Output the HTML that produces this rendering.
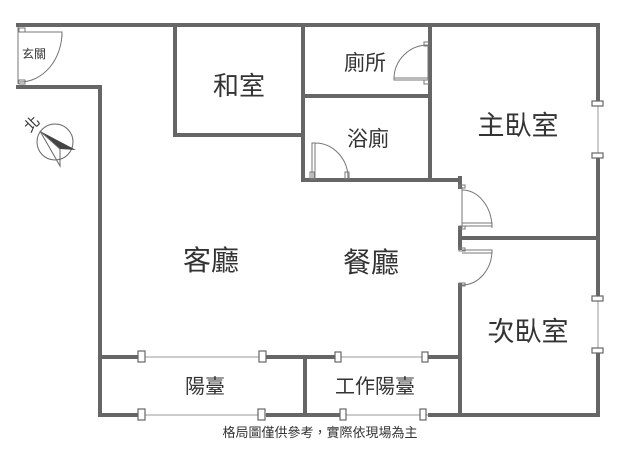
<!DOCTYPE html>
<html><head><meta charset="utf-8"><style>
body{margin:0;background:#fff}
svg{display:block}
text{font-family:"Liberation Sans","Noto Sans CJK TC",sans-serif;fill:#333;text-anchor:middle}
</style></head><body>
<svg width="640" height="461" viewBox="0 0 640 461">
<g stroke="#666" stroke-width="4" fill="none" stroke-linecap="square">
<path d="M18 25H598V415H100V87H18"/>
<path d="M175 25V135H303"/>
<path d="M303 25V180H460"/>
<path d="M303 96H430"/>
<path d="M430 25V178"/>
<path d="M460 178V187M460 228V248M460 285V415"/>
<path d="M460 238H598"/>
<path d="M100 357H460"/>
<path d="M305 357V415"/>
</g>
<!-- windows -->
<g fill="#fff" stroke="none">
<rect x="140" y="354" width="126" height="6"/><rect x="338" y="354" width="90" height="6"/>
<rect x="140" y="412" width="126" height="6"/><rect x="340" y="412" width="88" height="6"/>
<rect x="595" y="102" width="6" height="54"/><rect x="595" y="298" width="6" height="54"/>
</g>
<g stroke="#999" stroke-width="1">
<path d="M140 357H266M338 357H428M140 415H266M340 415H428M598 102V156M598 298V352"/>
</g>
<g fill="#fff" stroke="#666" stroke-width="1.2">
<rect x="138" y="351" width="7" height="11"/><rect x="259" y="351" width="7" height="11"/>
<rect x="335" y="352" width="6" height="10"/><rect x="422" y="352" width="6" height="10"/>
<rect x="138" y="409" width="7" height="11"/><rect x="258" y="409" width="7" height="11"/>
<rect x="340" y="409" width="6" height="11"/><rect x="420" y="409" width="6" height="11"/>
<rect x="592" y="101" width="11" height="5"/><rect x="592" y="153" width="11" height="5"/>
<rect x="592" y="296" width="11" height="5"/><rect x="592" y="348" width="11" height="5"/>
</g>
<!-- doors -->
<g fill="none" stroke="#777" stroke-width="1">
<path d="M18 27V84"/>
<path d="M20 32H62V37M62 32A42 50 0 0 1 20 82"/>
<rect x="19" y="28" width="6" height="4"/><rect x="19" y="80" width="6" height="4"/>
<path d="M428 45V80H394V78H428M394 78A34 34 0 0 1 428 45"/>
<rect x="424" y="42" width="5" height="4"/><rect x="424" y="80" width="5" height="4"/>
<path d="M312 180V143H315V180M315 143A33 35 0 0 1 348 178"/>
<rect x="345" y="172" width="4" height="7"/><rect x="310" y="172" width="4" height="7"/>
<path d="M462 187V228M462 190A30 38 0 0 1 492 226H462M462 223H492V228"/>
<rect x="459" y="185" width="6" height="3"/><rect x="459" y="226" width="6" height="3"/>
<path d="M462 250H492V253H462M492 250A30 35 0 0 1 462 285"/>
<rect x="459" y="248" width="6" height="3"/><rect x="459" y="283" width="6" height="3"/>
</g>
<!-- compass -->
<circle cx="55" cy="142" r="18" fill="none" stroke="#666" stroke-width="1"/>
<path d="M40 131L76 150L60 149Z" fill="#444"/>
<path d="M40 131L60 149L60 166Z" fill="none" stroke="#666" stroke-width="1"/>
<text x="32" y="129" font-size="15" transform="rotate(-45 32 124)">北</text>
<text x="34" y="58" font-size="12">玄關</text>
<text x="239" y="95" font-size="26">和室</text>
<text x="365" y="70" font-size="21">廁所</text>
<text x="368" y="146" font-size="21">浴廁</text>
<text x="518" y="135" font-size="27">主臥室</text>
<text x="211" y="270" font-size="28">客廳</text>
<text x="371" y="272" font-size="28">餐廳</text>
<text x="528" y="341" font-size="27">次臥室</text>
<text x="205" y="393" font-size="20">陽臺</text>
<text x="375" y="393" font-size="20">工作陽臺</text>
<text x="320" y="437" font-size="13">格局圖僅供參考，實際依現場為主</text>
</svg>
</body></html>
